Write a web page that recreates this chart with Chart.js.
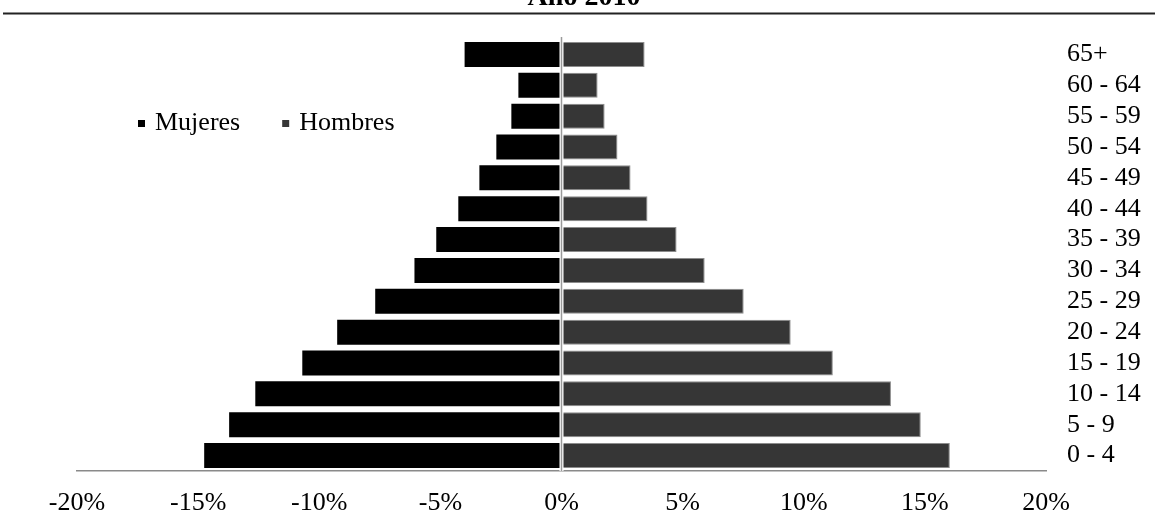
<!DOCTYPE html>
<html>
<head>
<meta charset="utf-8">
<script src="https://cdn.jsdelivr.net/npm/chart.js@4"></script>
<style>
  html, body { margin: 0; padding: 0; background: #fff; overflow: hidden; }
</style>
</head>
<body>
<canvas id="chart" width="1155" height="512"></canvas>
<script>
const title = "Año 2010";
const grupos = ["65+", "60 - 64", "55 - 59", "50 - 54", "45 - 49", "40 - 44", "35 - 39",
  "30 - 34", "25 - 29", "20 - 24", "15 - 19", "10 - 14", "5 - 9", "0 - 4"];
// porcentajes (mujeres se dibujan hacia la izquierda)
const mujeres = [4.0, 1.78, 2.07, 2.69, 3.39, 4.26, 5.17, 6.07, 7.69, 9.26, 10.7, 12.64, 13.72, 14.75];
const hombres = [3.43, 1.49, 1.78, 2.31, 2.85, 3.55, 4.75, 5.91, 7.52, 9.46, 11.2, 13.6, 14.83, 16.03];
const xTicks = [-20, -15, -10, -5, 0, 5, 10, 15, 20];

const FONT = "'Liberation Serif', 'Times New Roman', serif";
Chart.defaults.font.family = FONT;
Chart.defaults.color = "#000";

// title text and rule at the top, legend inside the plot, zero line
const extras = {
  id: "extras",
  afterDatasetsDraw(chart) {
    const ctx = chart.ctx;
    const x0 = chart.scales.x.getPixelForValue(0);
    const area = chart.chartArea;
    ctx.save();
    ctx.fillStyle = "#fff";
    ctx.fillRect(x0 - 2, area.top - 2, 4, area.bottom - area.top + 2);
    ctx.strokeStyle = "#9a9a9a";
    ctx.lineWidth = 1.5;
    ctx.beginPath();
    ctx.moveTo(x0, area.top - 2);
    ctx.lineTo(x0, area.bottom);
    ctx.stroke();
    ctx.restore();
  },
  afterDraw(chart) {
    const ctx = chart.ctx;
    ctx.save();
    ctx.font = "bold 28px " + FONT;
    ctx.fillStyle = "#000";
    ctx.textAlign = "center";
    ctx.textBaseline = "alphabetic";
    ctx.fillText(title, 584, 5);
    ctx.strokeStyle = "#222";
    ctx.lineWidth = 2;
    ctx.beginPath();
    ctx.moveTo(3, 13.5);
    ctx.lineTo(1155, 13.5);
    ctx.stroke();

    // legend
    ctx.font = "26px " + FONT;
    ctx.textAlign = "left";
    let x = 138;
    chart.data.datasets.forEach((ds) => {
      ctx.fillStyle = ds.backgroundColor;
      ctx.fillRect(x, 120, 7, 7);
      ctx.fillStyle = "#000";
      ctx.fillText(ds.label, x + 17, 130);
      x += 17 + ctx.measureText(ds.label).width + 42;
    });
    ctx.restore();
  }
};

new Chart(document.getElementById("chart"), {
  type: "bar",
  data: {
    labels: grupos,
    datasets: [
      {
        label: "Mujeres",
        data: mujeres.map((v) => -v),
        backgroundColor: "#000",
        borderWidth: 0,
        categoryPercentage: 1,
        barPercentage: 0.81
      },
      {
        label: "Hombres",
        data: hombres,
        backgroundColor: "#363636",
        borderColor: "#8c8c8c",
        borderWidth: 1,
        categoryPercentage: 1,
        barPercentage: 0.81
      }
    ]
  },
  options: {
    indexAxis: "y",
    responsive: false,
    animation: false,
    layout: { padding: { top: 39, left: 77, right: 0, bottom: 0 } },
    plugins: {
      legend: { display: false },
      title: { display: false },
      tooltip: { enabled: false }
    },
    scales: {
      x: {
        stacked: true,
        min: -20,
        max: 20,
        afterBuildTicks: (scale) => {
          scale.ticks = xTicks.map((v) => ({ value: v }));
        },
        afterFit: (scale) => { scale.height = 41; },
        grid: { display: false },
        border: { display: true, color: "#8a8a8a", width: 1.5 },
        ticks: {
          padding: 9,
          font: { size: 26 },
          callback: (v) => v + "%"
        }
      },
      y: {
        stacked: true,
        position: "right",
        afterFit: (scale) => { scale.width = 109; },
        grid: { display: false, drawTicks: false },
        border: { display: false },
        ticks: {
          autoSkip: false,
          padding: 21,
          font: { size: 26 }
        }
      }
    }
  },
  plugins: [extras]
});
</script>
</body>
</html>
